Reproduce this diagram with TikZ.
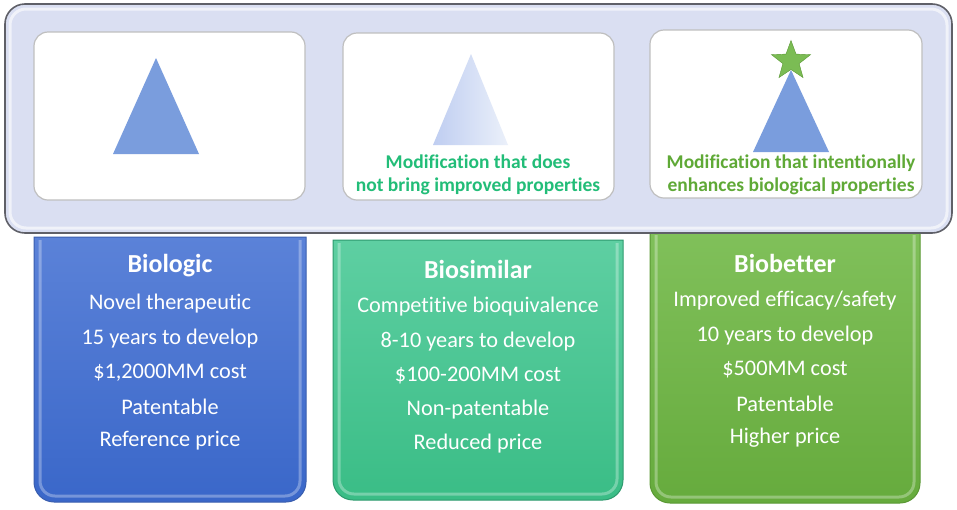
\documentclass[tikz,border=0pt]{standalone}
\usepackage{fontspec}
\setmainfont{Carlito}[Ligatures=NoCommon]
\usepackage{tikz}
\usetikzlibrary{shapes.geometric}

\definecolor{panelfill}{HTML}{DADFF2}
\definecolor{panelline}{HTML}{5F6068}
\definecolor{triblue}{HTML}{7A9DDD}
\definecolor{bluetop}{HTML}{5B82D8}
\definecolor{bluebot}{HTML}{3A67C9}
\definecolor{blueline}{HTML}{3A5EAE}
\definecolor{simtop}{HTML}{5ECFA2}
\definecolor{simbot}{HTML}{3ABD86}
\definecolor{simline}{HTML}{2E9A6E}
\definecolor{bettop}{HTML}{80C05A}
\definecolor{betbot}{HTML}{66AB3D}
\definecolor{betline}{HTML}{5A9834}
\definecolor{simtext}{HTML}{22BD78}
\definecolor{bettext}{HTML}{5FA936}

\tikzset{
  cardtitle/.style={text=white, font=\fontsize{26}{30}\selectfont\bfseries, inner sep=0},
  cardtext/.style={text=white, font=\fontsize{22.3}{26}\selectfont, inner sep=0},
  modtext/.style={font=\fontsize{19.5}{23}\selectfont\bfseries, align=center, inner sep=0},
  whitebox/.style={fill=white, draw=black!25, line width=1.2pt, rounded corners=14pt},
  bevel/.style={draw=white, draw opacity=0.3, line width=3pt},
}

\begin{document}
\begin{tikzpicture}[x=1pt, y=-1pt]
    \useasboundingbox (0,0) rectangle (957,509);

    % lower cards
    \shade[top color=bluetop, bottom color=bluebot, draw=blueline, line width=1pt]
        (34,237) [rounded corners=20pt] -- (34,502) -- (306,502) [sharp corners] -- (306,237) -- cycle;
    \draw[bevel] (40,240) [rounded corners=15pt] -- (40,496) -- (300,496) [sharp corners] -- (300,240);

    \shade[top color=simtop, bottom color=simbot, draw=simline, line width=1pt]
        (333,240) [rounded corners=20pt] -- (333,500) -- (623,500) [sharp corners] -- (623,240) -- cycle;
    \draw[bevel] (339,243) [rounded corners=15pt] -- (339,494) -- (617,494) [sharp corners] -- (617,243);

    \shade[top color=bettop, bottom color=betbot, draw=betline, line width=1pt]
        (650,232) [rounded corners=20pt] -- (650,503) -- (920,503) [sharp corners] -- (920,232) -- cycle;
    \draw[bevel] (656,235) [rounded corners=15pt] -- (656,497) -- (914,497) [sharp corners] -- (914,235);

    % top panel
    \draw[fill=panelfill, draw=panelline, line width=1.6pt, rounded corners=20pt] (5,4) rectangle (952,233);
    \draw[white, opacity=0.6, line width=3pt, rounded corners=16pt] (10,9) rectangle (947,228);

    \draw[whitebox] (34,32) rectangle (305,200);
    \draw[whitebox] (343,33) rectangle (614,200);
    \draw[whitebox] (650,30) rectangle (922,198);

    % molecules
    \fill[triblue] (156,58) -- (199,154) -- (113,154) -- cycle;
    \shade[left color=blue!8!triblue!45, right color=triblue!15] (471,54) -- (508,145) -- (433,145) -- cycle;
    \fill[triblue] (791,70) -- (829,152) -- (753,152) -- cycle;
    \node[star, star points=5, star point ratio=2.4, minimum size=41pt, inner sep=0,
          fill=bettop!80!betbot, draw=betline] (mark) at (791,61) {};

    \node[modtext, text=simtext] (simnote) at (478,175) {Modification that does\\not bring improved properties};
    \node[modtext, text=bettext] (betnote) at (791,175) {Modification that intentionally\\enhances biological properties};

    % card texts
    \node[cardtitle] (biologic) at (170,266) {Biologic};
    \foreach \t [count=\i] in {Novel therapeutic, 15 years to develop, {\$1,2000MM cost}, Patentable, Reference price}
        \node[cardtext] (biologic\i) at (170,{304+34.2*(\i-1)}) {\t};

    \node[cardtitle] (biosimilar) at (478,269) {Biosimilar};
    \foreach \t [count=\i] in {Competitive bioquivalence, 8-10 years to develop, \$100-200MM cost, Non-patentable, Reduced price}
        \node[cardtext] (biosimilar\i) at (478,{307+34.2*(\i-1)}) {\t};

    \node[cardtitle] (biobetter) at (785,263) {Biobetter};
    \foreach \t [count=\i] in {Improved efficacy/safety, 10 years to develop, \$500MM cost, Patentable, Higher price}
        \node[cardtext] (biobetter\i) at (785,{301+34.2*(\i-1)}) {\t};
\end{tikzpicture}
\end{document}
